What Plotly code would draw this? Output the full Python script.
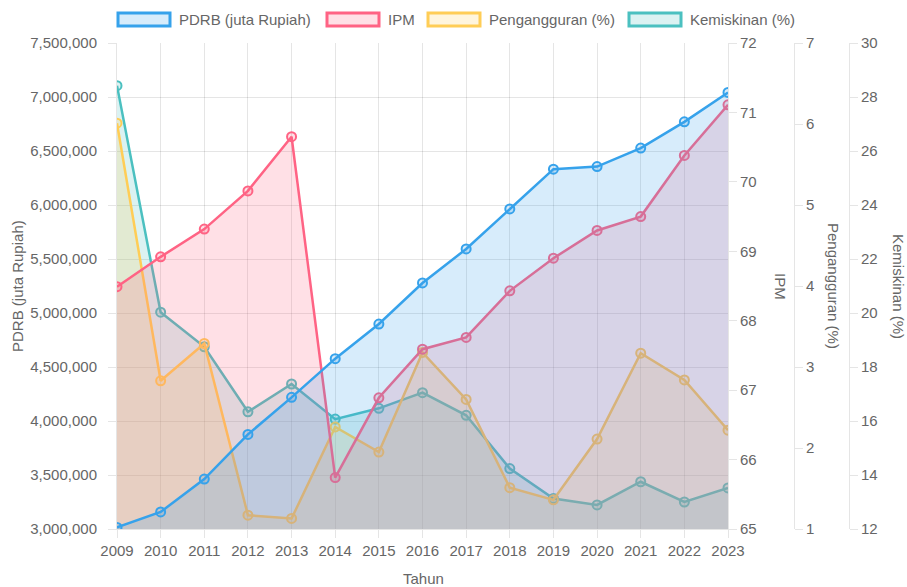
import plotly.graph_objects as go

# ---- data ----
years = list(range(2009, 2024))
pdrb = [3015000, 3158000, 3462000, 3876000, 4219000, 4577000, 4898000, 5278000,
        5593000, 5964000, 6332000, 6356000, 6527000, 6770000, 7042000]
ipm = [68.49, 68.92, 69.32, 69.87, 70.65, 65.74, 66.89, 67.59, 67.76, 68.43,
       68.90, 69.30, 69.50, 70.38, 71.11]
pengangguran = [6.01, 2.83, 3.29, 1.17, 1.13, 2.26, 1.95, 3.18, 2.60, 1.51,
                1.36, 2.11, 3.17, 2.84, 2.22]
kemiskinan = [28.42, 20.03, 18.75, 16.34, 17.37, 16.07, 16.47, 17.05, 16.21,
              14.24, 13.13, 12.89, 13.75, 13.00, 13.52]

names = ["PDRB (juta Rupiah)", "IPM", "Pengangguran (%)", "Kemiskinan (%)"]
line_colors = ["rgb(54,162,235)", "rgb(255,99,132)", "rgb(255,205,86)", "rgb(75,192,192)"]
fill_colors = ["rgba(54,162,235,0.2)", "rgba(255,99,132,0.2)",
               "rgba(255,205,86,0.2)", "rgba(75,192,192,0.2)"]

W, H = 907, 587
L, R, T, B = 117, 849, 43, 529  # pixel bounds of the paper area
def px(X):
    return (X - L) / (R - L)
def py(Y):
    return (B - Y) / (B - T)

FONT = "Liberation Sans, Arial, Helvetica, sans-serif"
TXT = "#666666"
GRID = "rgba(0,0,0,0.1)"

fig = go.Figure()
# draw order: Kemiskinan (bottom) ... PDRB (top), like Chart.js
series = [(kemiskinan, 3, "y"), (pengangguran, 2, "y2"), (ipm, 1, "y3"), (pdrb, 0, "y4")]
for vals, i, ax in series:
    fig.add_trace(go.Scatter(
        x=years, y=vals, name=names[i], yaxis=ax, mode="lines+markers",
        fill="tozeroy", fillcolor=fill_colors[i],
        line=dict(color=line_colors[i], width=2.5),
        marker=dict(size=9, color=fill_colors[i], line=dict(color=line_colors[i], width=2)),
        showlegend=False, cliponaxis=True,
    ))

xdom_end = px(728)
common = dict(showgrid=False, zeroline=False, ticks="outside", ticklen=8,
              tickcolor=GRID, showline=True, linecolor=GRID, linewidth=1,
              tickfont=dict(family=FONT, size=15, color=TXT), automargin=False)

fig.update_layout(
    width=W, height=H,
    margin=dict(l=L, r=W - R, t=T, b=H - B),
    paper_bgcolor="white", plot_bgcolor="white",
    font=dict(family=FONT, size=15, color=TXT),
    xaxis=dict(domain=[0, xdom_end], range=[2009, 2023], tickmode="array",
               tickvals=years, ticktext=[str(y) for y in years],
               showgrid=True, gridcolor=GRID, zeroline=False, ticks="outside",
               ticklen=8, tickcolor=GRID, showline=True, linecolor=GRID,
               tickfont=dict(family=FONT, size=15, color=TXT), automargin=False),
    yaxis=dict(range=[12, 30], tickvals=list(range(12, 31, 2)), side="right",
               anchor="free", position=1.0, **common),
    yaxis2=dict(range=[1, 7], tickvals=list(range(1, 8)), side="right",
                overlaying="y", anchor="free", position=px(794), **common),
    yaxis3=dict(range=[65, 72], tickvals=list(range(65, 73)), side="right",
                overlaying="y", anchor="x", **common),
    yaxis4=dict(range=[3000000, 7500000], tickvals=list(range(3000000, 7500001, 500000)),
                tickformat=",d", side="left", overlaying="y", anchor="x",
                ticklabelstandoff=8,
                **{**common, "showgrid": True, "gridcolor": GRID}),
)

ann = []
# axis titles
ann.append(dict(text="PDRB (juta Rupiah)", x=px(17), y=py(286), textangle=-90))
ann.append(dict(text="IPM", x=px(781), y=py(286), textangle=90))
ann.append(dict(text="Pengangguran (%)", x=px(834), y=py(286), textangle=90))
ann.append(dict(text="Kemiskinan (%)", x=px(899), y=py(286), textangle=90))
ann.append(dict(text="Tahun", x=px(423), y=py(578), textangle=0))
for a in ann:
    a.update(xref="paper", yref="paper", showarrow=False, xanchor="center",
             yanchor="middle", font=dict(family=FONT, size=15, color=TXT))

# custom Chart.js-like legend
legend_boxes = [(118, 170), (327, 379), (428, 480), (629, 681)]
shapes = []
for i, (x0, x1) in enumerate(legend_boxes):
    shapes.append(dict(type="rect", xref="paper", yref="paper",
                       x0=px(x0), x1=px(x1), y0=py(26), y1=py(13),
                       fillcolor=fill_colors[i], line=dict(color=line_colors[i], width=3)))
    ann.append(dict(text=names[i], x=px(x1 + 7), y=py(19.5), xref="paper", yref="paper",
                    showarrow=False, xanchor="left", yanchor="middle",
                    font=dict(family=FONT, size=15, color=TXT)))

fig.update_layout(annotations=ann, shapes=shapes)
fig.write_html("out.html", config={"displayModeBar": False},
               post_script="document.body.style.margin='0px';document.body.style.overflow='hidden';")
